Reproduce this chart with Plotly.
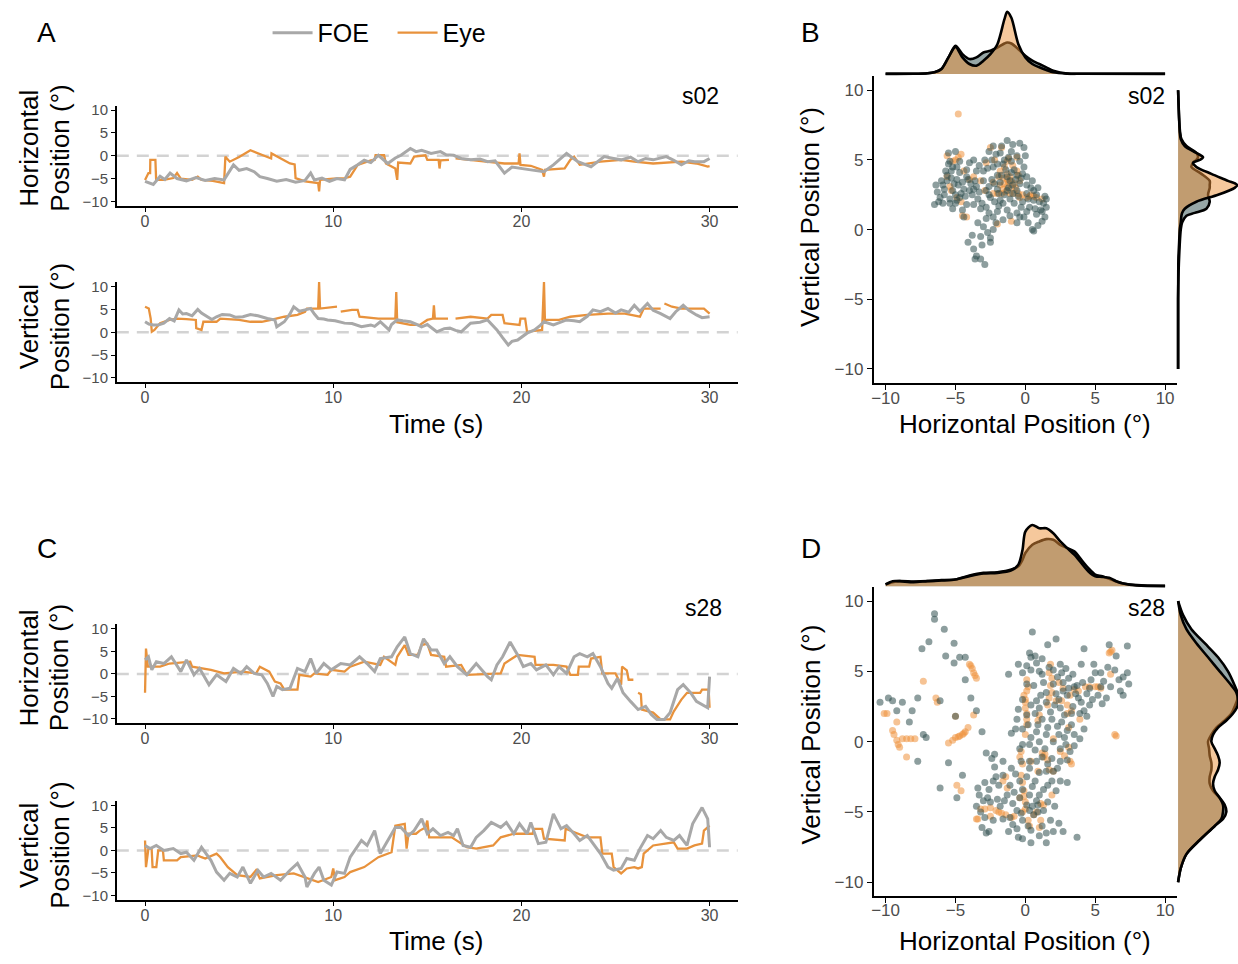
import plotly.graph_objects as go

# ---------------------------------------------------------------- data
TIME_TICKS = [0, 10, 20, 30]
POS_TICKS = [-10, -5, 0, 5, 10]
SERIES = ["FOE", "Eye"]

# s02 horizontal / vertical time series: (time s, position deg)
a_h_foe = [(0, -5.6), (0.2, -5.9), (0.44, -6.3), (0.8, -4.5), (1.05, -5.2), (1.33, -3.8), (1.7, -5.0), (2.2, -5.5), (2.7, -4.8),
           (3.2, -5.4), (3.7, -5.0), (4.2, -5.3), (4.7, -2.0), (5.0, -3.2), (5.4, -2.8), (5.8, -3.5), (6.1, -4.6),
           (6.5, -5.0), (7.0, -5.6), (7.5, -5.2), (8.0, -5.8), (8.5, -5.4), (8.8, -3.8), (9.0, -5.3), (9.4, -4.9),
           (9.8, -5.6), (10.2, -5.0), (10.6, -5.3), (10.9, -3.0), (11.3, -2.0), (11.65, -1.0), (12.0, -1.5),
           (12.4, 0.1), (12.9, -1.7), (13.3, -0.5), (13.6, 0.1), (14.1, 1.6), (14.4, 0.9), (14.7, 1.2), (15.2, 0.5),
           (15.7, 0.9), (16.0, 0.2), (16.4, 0.1), (16.8, -0.6), (17.3, -0.9), (17.8, -0.7), (18.2, -1.3), (18.6, -1.1),
           (19.1, -3.8), (19.5, -2.5), (19.9, -2.8), (20.5, -3.1), (21.2, -3.5), (21.7, -2.0), (22.4, 0.5), (23.0, -1.3),
           (23.7, -2.4), (24.4, -0.2), (24.9, -0.6), (25.3, -0.9), (25.8, -0.3), (26.2, -1.3), (26.6, -0.6),
           (27.0, -0.9), (27.7, -0.2), (28.1, -1.0), (28.5, -2.0), (28.9, -1.1), (29.2, -1.3), (29.7, -1.3), (30.0, -0.6)]
a_h_eye = [(0, -5.3), (0.18, -3.8), (0.27, -3.8), (0.28, -0.9), (0.55, -0.9), (0.59, -5.3), (1.0, -5.3), (1.5, -4.9),
           (1.7, -3.8), (1.9, -5.0), (2.5, -5.3), (2.8, -4.6), (3.0, -5.3), (3.6, -5.5), (4.2, -6.0), (4.27, -0.2),
           (4.5, -1.3), (5.0, -0.3), (5.6, 1.2), (6.1, 0.3), (6.7, -0.6), (6.72, 0.5), (7.2, -0.6), (7.7, -1.7),
           (7.95, -1.9), (8.0, -4.9), (8.5, -5.6), (9.2, -6.0), (9.25, -7.8), (9.3, -5.3), (10.0, -5.0), (10.6, -4.9),
           (10.9, -4.6), (11.3, -2.0), (12.0, -1.0), (12.2, -0.9), (12.25, 0.1), (12.7, 0.1), (12.8, -1.7), (13.3, -2.8),
           (13.4, -5.3), (13.45, -1.5), (14.1, -1.7), (14.3, -0.2), (14.9, 0.1), (15.0, -0.9), (15.6, -0.9), (15.65, -2.8),
           (15.7, -1.0), (16.15, -0.9), (16.3, None), (16.5, -0.6), (17.3, -0.9), (18.2, -1.3), (19.1, -1.7), (19.85, -1.7),
           (19.9, 0.5), (19.95, -2.0), (20.5, -2.2), (21.1, -3.1), (21.2, -4.6), (21.25, -3.1), (22.3, -2.8), (22.6, -0.9),
           (22.8, -0.2), (23.1, -2.0), (24.2, -1.3), (25.3, -0.9), (26.0, -1.3), (27.0, -1.7), (28.5, -1.3), (29.3, -1.7),
           (29.9, -2.4), (30.0, -2.3)]
a_v_foe = [(0, 2.3), (0.2, 1.8), (0.44, 1.6), (0.7, 1.6), (1.0, 2.0), (1.3, 3.0), (1.55, 2.5), (1.8, 4.9), (2.0, 4.0),
           (2.2, 4.1), (2.5, 3.6), (2.8, 5.0), (3.0, 4.2), (3.3, 3.4), (3.55, 2.8), (3.8, 3.4), (4.1, 3.9), (4.5, 3.8),
           (4.8, 3.3), (5.2, 3.4), (5.6, 3.9), (6.0, 3.6), (6.3, 3.2), (6.5, 3.0), (6.9, 2.7), (7.0, 1.2), (7.4, 2.3),
           (7.7, 4.0), (7.9, 5.6), (8.2, 4.6), (8.5, 4.9), (8.8, 5.2), (9.0, 4.0), (9.2, 3.0), (9.5, 2.9), (9.7, 2.7),
           (10.1, 2.5), (10.6, 2.0), (11.0, 1.9), (11.5, 1.2), (12.0, 1.6), (12.2, 1.3), (12.5, 2.3), (12.97, 0.5),
           (13.1, 1.7), (13.4, 2.7), (13.7, 2.5), (14.1, 2.3), (14.4, 1.8), (14.7, 1.2), (15.0, 1.7), (15.5, 0.1),
           (15.9, 0.8), (16.2, 0.9), (16.5, 0.4), (16.8, 0.1), (17.3, 2.0), (17.8, 2.2), (18.2, 2.7), (18.7, 0.5),
           (19.0, -1.2), (19.3, -2.8), (19.5, -2.0), (19.8, -1.7), (20.3, -0.2), (20.7, 0.5), (21.0, 1.5), (21.2, 2.3),
           (21.7, 1.6), (22.0, 2.0), (22.4, 2.7), (22.8, 2.5), (23.1, 2.3), (23.5, 3.5), (23.8, 4.9), (24.2, 4.5),
           (24.6, 5.2), (25.0, 4.2), (25.3, 4.9), (25.7, 4.4), (26.0, 5.9), (26.3, 4.6), (26.7, 6.3), (27.0, 4.8),
           (27.4, 4.1), (27.9, 3.0), (28.2, 4.5), (28.6, 5.9), (28.9, 4.8), (29.3, 3.8), (29.6, 3.2), (30.0, 3.4)]
a_v_eye = [(0, 5.6), (0.2, 5.2), (0.3, 3.0), (0.36, 0.1), (0.5, 0.5), (0.8, 2.0), (1.3, 2.7), (1.7, 3.0), (2.2, 2.9),
           (2.7, 2.7), (2.72, 0.9), (3.0, 0.5), (3.1, 2.3), (3.8, 2.3), (4.0, 3.0), (5.0, 2.7), (5.6, 2.3), (6.2, 2.3),
           (6.7, 2.7), (7.4, 3.4), (8.1, 3.8), (8.5, 4.5), (8.6, 5.2), (9.2, 5.2), (9.25, 11.0), (9.3, 5.2), (10.2, 5.6),
           (10.25, None), (10.4, 4.5), (11.0, 4.9), (11.3, 4.9), (11.4, 3.4), (12.4, 3.0), (13.3, 3.0), (13.35, 8.8),
           (13.4, 2.2), (14.1, 1.6), (14.6, 1.6), (15.0, 2.7), (15.3, 3.0), (15.35, 5.9), (15.4, 3.0), (16.1, 3.0),
           (16.2, None), (16.5, 3.0), (17.3, 3.4), (18.2, 3.0), (18.4, 3.8), (19.0, 3.8), (19.1, 2.0), (19.9, 1.6),
           (19.95, 3.0), (20.2, 3.0), (20.3, 0.1), (21.1, 0.5), (21.2, 11.0), (21.25, 2.7), (22.0, 2.7), (22.6, 3.4),
           (23.5, 3.8), (24.6, 4.1), (25.5, 4.1), (26.3, 3.4), (26.5, 5.2), (27.4, 5.2), (27.45, None), (27.6, 6.3),
           (28.0, 5.6), (28.5, 5.2), (29.7, 5.2), (30.0, 4.1)]

# s28 horizontal / vertical time series
c_h_foe = [(0, 3.1), (0.18, 3.8), (0.36, 0.9), (0.6, 2.7), (1.0, 2.3), (1.4, 3.8), (1.9, 0.5), (2.2, 3.1), (2.6, -0.2),
           (2.9, 1.2), (3.4, -2.4), (3.8, -0.2), (4.3, -1.7), (4.7, 1.2), (5.1, 0.1), (5.4, 1.6), (5.8, 0.1),
           (6.2, -0.2), (6.5, -2.1), (6.8, -5.0), (7.0, -2.8), (7.3, -3.5), (7.7, -3.2), (8.1, 1.2), (8.5, 0.5),
           (8.8, 3.4), (9.1, 0.1), (9.5, 2.3), (9.9, 0.9), (10.4, 2.3), (10.9, 2.0), (11.4, 3.8), (11.8, 2.3),
           (12.2, 0.5), (12.5, 3.4), (13.1, 3.8), (13.4, 6.0), (13.8, 8.2), (14.1, 4.5), (14.5, 3.8), (14.8, 7.8),
           (15.2, 5.3), (15.5, 5.3), (15.9, 2.3), (16.2, 3.8), (16.6, 1.6), (17.1, -0.2), (17.6, 2.3), (18.2, -0.6),
           (18.4, -1.3), (18.7, 2.0), (19.0, 3.8), (19.4, 7.1), (19.8, 4.2), (20.1, 1.6), (20.5, 2.3), (20.8, 0.9),
           (21.3, 2.0), (21.7, -0.2), (22.0, 1.6), (22.4, 0.1), (22.8, 3.8), (23.1, 4.5), (23.5, 3.8), (23.8, 4.5),
           (24.2, 1.6), (24.6, -2.1), (24.8, -3.2), (25.1, -1.0), (25.4, -4.2), (25.8, -6.1), (26.2, -7.9),
           (26.6, -7.2), (26.9, -9.0), (27.2, -10.1), (27.6, -10.1), (27.9, -8.6), (28.3, -3.5), (28.6, -2.4),
           (29.0, -4.2), (29.3, -6.1), (29.9, -7.5), (30.0, -0.6)]
c_h_eye = [(0, -4.2), (0.05, 5.6), (0.15, 1.6), (0.8, 1.6), (1.3, 2.3), (2.4, 2.7), (2.5, 1.6), (3.5, 0.9), (4.2, 0.1),
           (5.2, 0.5), (5.9, 0.1), (6.1, 1.6), (6.6, 0.5), (6.9, -1.7), (7.2, -2.1), (7.4, -3.5), (8.1, -3.5),
           (8.2, -0.2), (8.8, -0.6), (9.0, 0.1), (9.7, -0.2), (9.9, 0.9), (10.6, 0.5), (10.9, 1.6), (11.65, 2.7),
           (12.5, 2.0), (12.7, 3.8), (13.3, 2.0), (13.4, 3.8), (13.8, 6.4), (14.0, 4.2), (14.5, 4.2), (14.7, 6.4),
           (15.0, 6.7), (15.2, 4.2), (15.9, 3.8), (16.0, 1.6), (16.8, 2.0), (17.1, -0.2), (18.9, 0.1), (19.1, 2.3),
           (19.8, 4.2), (20.7, 3.8), (20.75, 2.0), (21.7, 2.0), (22.4, 1.6), (22.6, -0.2), (23.0, -0.2), (23.05, 1.6),
           (23.6, 1.6), (23.7, 3.4), (24.2, 3.8), (24.3, 0.1), (25.0, 0.1), (25.3, -2.4), (25.35, 1.6), (25.6, 0.8),
           (25.7, -1.3), (25.95, -1.3), (26.05, None), (26.2, -4.2), (26.35, -4.5), (26.4, -7.9), (27.0, -8.6),
           (27.4, -10.1), (27.9, -10.1), (28.1, -8.3), (28.5, -5.7), (28.8, -4.2), (29.5, -4.2), (29.6, -3.5),
           (29.95, -3.5), (30.0, -7.5)]
c_v_foe = [(0, 1.1), (0.27, 0.4), (0.6, 1.1), (1.0, 0), (1.5, 0.4), (1.9, -0.7), (2.2, -0.4), (2.6, -2.2), (3.0, 0.7),
           (3.5, -2.2), (3.8, -4.8), (4.2, -6.6), (4.5, -5.1), (4.9, -5.9), (5.2, -3.7), (5.6, -7.3), (6.0, -4.4),
           (6.3, -5.9), (6.7, -5.1), (7.2, -6.6), (7.7, -4.4), (8.1, -2.9), (8.5, -5.9), (8.6, -8.1), (9.0, -5.1),
           (9.25, -3.7), (9.5, -6.6), (9.9, -7.7), (10.2, -4.8), (10.6, -5.1), (10.9, -1.5), (11.5, 2.2), (11.8, 1.1),
           (12.2, 4.4), (12.5, -0.7), (12.9, 2.2), (13.3, 5.1), (13.6, 5.1), (14.0, 3.3), (14.3, 4.4), (14.7, 7.0),
           (15.0, 3.7), (15.3, 4.8), (15.7, 3.3), (16.1, 4.0), (16.4, 3.3), (16.6, 4.8), (16.9, 1.1), (17.3, 0.7),
           (17.6, 2.9), (18.0, 4.4), (18.4, 6.2), (18.9, 5.1), (19.2, 6.2), (19.6, 3.7), (19.9, 5.9), (20.3, 3.7),
           (20.5, 6.2), (20.9, 1.5), (21.3, 1.8), (21.7, 8.1), (22.1, 4.8), (22.4, 5.5), (22.8, 3.7), (23.1, 2.2),
           (23.5, 3.3), (23.8, 1.5), (24.2, -0.7), (24.6, -3.7), (24.9, -4.4), (25.3, -4.0), (25.6, -1.8),
           (26.0, -2.2), (26.3, 0.4), (26.7, 3.3), (27.0, 2.6), (27.4, 4.4), (27.7, 2.9), (28.1, 2.2), (28.4, 3.3),
           (28.8, 1.1), (29.1, 5.9), (29.6, 9.5), (29.9, 7.0), (30.0, 0.7)]
c_v_eye = [(0, 2.2), (0.05, -3.7), (0.18, 0.4), (0.35, 0.4), (0.4, -3.7), (0.6, -3.7), (0.7, 0), (0.95, 0), (1.0, -2.2),
           (1.7, -2.2), (1.9, -1.5), (2.8, -1.1), (3.0, -1.5), (3.2, -1.8), (3.8, -0.7), (4.0, -1.5), (4.4, -3.7),
           (4.9, -5.5), (5.6, -5.9), (5.9, -4.4), (6.1, -6.2), (7.0, -5.5), (7.9, -5.1), (8.5, -5.9), (9.2, -7.0),
           (9.9, -5.9), (10.0, -4.0), (10.1, -6.6), (10.6, -5.9), (10.9, -4.8), (11.65, -3.7), (12.4, -1.5),
           (13.1, -0.4), (13.3, 5.5), (13.8, 5.9), (13.9, 0.4), (14.0, 3.7), (14.4, 3.7), (14.6, 4.4), (14.9, 5.1),
           (15.0, 6.6), (15.1, 2.9), (15.6, 2.9), (16.3, 2.9), (17.1, 0.7), (17.6, 0.4), (18.5, 1.1), (18.9, 2.9),
           (19.6, 3.7), (20.6, 3.7), (20.65, 4.8), (21.1, 4.8), (21.2, 2.6), (22.3, 2.2), (22.35, 4.8), (23.5, 2.9),
           (24.2, 2.9), (24.3, -0.7), (24.8, -0.7), (24.9, -3.7), (25.3, -5.1), (25.6, -4.0), (26.0, -3.7),
           (26.2, -4.0), (26.4, -3.7), (26.5, -0.7), (27.0, 1.1), (28.1, 1.8), (28.3, 0.4), (28.8, 0.4), (29.2, 1.1),
           (29.6, 1.5), (29.7, 4.4), (30.0, 5.5)]

# s02 gaze / FOE positions: (horizontal deg, vertical deg)
b_foe = [(-1.3, 6.4), (-0.4, 6.2), (-0.1, 5.9), (-2.3, 6.0), (-1.0, 5.6), (-0.6, 5.3), (-1.2, 5.2), (-1.8, 5.5),
         (-2.4, 5.0), (-2.9, 5.0), (-3.7, 5.0), (-4.0, 4.8), (-4.7, 4.9), (-5.0, 5.6), (-5.5, 5.5), (-5.4, 4.9),
         (-5.2, 4.5), (-4.7, 4.1), (-4.2, 4.3), (-3.5, 4.2), (-2.3, 4.5), (-1.6, 4.7), (-0.8, 4.3), (-0.1, 4.5),
         (-2.0, 3.9), (-1.3, 3.8), (-0.6, 3.9), (0.5, 3.5), (-5.6, 3.9), (-4.9, 3.6), (-4.2, 3.8), (-3.6, 3.5),
         (-3.0, 3.5), (-2.4, 3.6), (-1.8, 3.4), (-1.1, 3.5), (-0.4, 3.3), (0.1, 3.2), (-6.4, 3.2), (-5.8, 2.9),
         (-5.2, 2.8), (-4.4, 2.9), (-3.5, 3.1), (-2.8, 2.8), (-2.0, 2.9), (-1.3, 2.8), (-0.6, 2.8), (0.1, 2.6),
         (0.8, 2.5), (1.4, 2.4), (-6.1, 2.3), (-5.4, 2.2), (-4.7, 2.3), (-3.4, 2.2), (-2.5, 2.3), (-1.8, 2.1),
         (-1.1, 2.2), (-0.2, 2.0), (0.6, 2.1), (1.3, 1.9), (-6.5, 1.8), (-5.9, 1.9), (-5.0, 1.9), (-4.2, 1.8),
         (-3.2, 1.5), (-2.8, 1.6), (-2.0, 1.3), (-1.3, 1.4), (-0.6, 1.2), (0.1, 1.3), (0.8, 1.1), (1.4, 0.9),
         (1.2, 0.6), (-2.8, 0.8), (-1.6, 0.7), (-2.3, 0.9), (-0.6, 0.5), (0.5, 0.0), (0.6, -0.1), (-3.0, 0.2),
         (-2.3, 0.0), (-3.2, -0.5), (-2.5, -0.6), (-4.1, -0.9), (-3.1, -1.1), (-2.5, -0.9), (-3.7, -1.4),
         (-3.5, -1.9), (-3.2, -2.1), (-3.6, -2.1), (-2.9, -2.5), (-5.4, 1.9), (-5.6, 3.5), (-5.3, 4.2), (-5.5, 4.7),
         (-4.8, 3.2), (-4.0, 2.8), (-3.0, 4.2), (-2.0, 4.7), (-1.7, 3.9), (-1.0, 4.9), (-0.4, 4.9), (0.1, 3.8),
         (0.6, 2.8), (1.1, 1.4), (-0.8, 1.9), (-1.6, 1.9), (-3.7, 1.8), (-4.4, 0.9), (-0.1, 0.9), (-5.0, 2.5),
         (-5.1, 3.3), (-4.6, 2.6), (-1.5, 2.5), (-1.2, 3.0), (-0.9, 2.6), (-2.6, 3.1), (-3.9, 3.3), (-1.4, 4.3),
         (-0.3, 3.7), (0.3, 1.6), (-2.2, 2.0), (1.0, 2.0), (-5.8, 2.5), (-6.0, 3.5),
         (-5.7, 4.2), (-5.3, 3.7), (-4.9, 4.5), (-4.5, 3.4), (-4.3, 2.4), (-3.8, 2.5), (-3.3, 2.7), (-3.3, 4.6),
         (-2.7, 4.4), (-2.6, 2.5), (-2.2, 3.3), (-2.1, 5.4), (-1.9, 2.6), (-1.5, 5.0), (-1.0, 4.1), (-0.9, 3.2),
         (-0.7, 3.6), (-0.5, 2.4), (-0.3, 1.6), (0.2, 2.2), (0.4, 3.0), (0.7, 1.5), (0.9, 3.0), (1.2, 1.3),
         (1.5, 1.6), (1.5, 2.2), (-6.2, 2.0), (-6.3, 2.7), (-5.9, 3.2), (-4.9, 2.1), (-4.1, 3.6), (-3.7, 2.9),
         (-3.1, 1.9), (-2.6, 1.2), (-2.1, 0.5), (-1.9, 1.7), (-1.1, 1.0), (-0.4, 0.9), (0.2, 0.5), (-3.4, 0.5),
         (-2.7, -0.2), (-3.8, -0.4), (-4.5, 1.4), (-5.2, 1.5), (-1.7, 6.0), (-0.9, 6.1), (-2.6, 5.6), (0.0, 5.3),
         (-0.2, 4.0), (0.9, 0.3)]
b_eye = [(-4.8, 8.3), (-2.5, 5.9), (-1.7, 5.9), (-5.6, 5.3), (-4.8, 5.2), (-5.2, 4.9), (-2.8, 4.8), (-2.2, 5.0),
         (-1.3, 4.9), (-0.6, 5.2), (-4.4, 4.2), (-4.0, 3.6), (-3.2, 3.5), (-1.8, 3.2), (-1.3, 3.1), (-0.8, 3.3),
         (-0.4, 3.5), (-2.9, 2.8), (-2.3, 2.6), (-1.6, 2.9), (0.4, 2.5), (0.8, 2.3), (1.2, 2.2), (-5.4, 3.1),
         (-4.9, 2.3), (-4.2, 0.9), (-2.0, 0.4), (-1.0, 0.6), (-3.7, 3.8), (-1.1, 3.8), (-0.4, 2.3), (0.1, 2.3),
         (-1.8, 4.2), (-5.6, 3.8), (-1.3, 4.0), (-0.6, 4.2), (-1.5, 3.3), (-1.2, 3.4), (-1.0, 3.0), (-1.4, 2.7),
         (-2.0, 2.6), (-1.7, 2.6), (-1.1, 2.6), (-0.8, 2.6), (-0.5, 2.6), (-0.2, 2.5), (0.3, 2.4), (0.6, 2.4),
         (-1.3, 3.6), (-1.0, 3.5), (-0.7, 3.0), (-1.6, 3.7), (-1.9, 3.8), (-2.3, 3.4), (-4.6, 5.4), (-5.0, 5.0),
         (-5.3, 2.8), (-4.6, 2.0), (-4.5, 1.0), (-1.2, 5.1), (-0.9, 4.6), (-1.5, 4.5), (-0.5, 3.9)]

# s28 gaze / FOE positions
d_foe = [(-6.5, 9.1), (-6.5, 8.7), (-5.8, 8.0), (-6.9, 7.1), (-7.4, 6.6), (-5.1, 7.0), (-5.7, 6.1), (-4.7, 6.0),
         (-4.3, 6.0), (-5.1, 5.6), (-4.3, 4.4), (-10.4, 2.8), (-9.8, 3.1), (-9.5, 2.9), (-9.2, 2.2), (-8.8, 2.8),
         (-8.1, 2.2), (-7.7, 3.1), (-8.3, 1.4), (-7.3, 0.5), (-7.1, 0.3), (-6.1, 2.9), (-5.0, 1.8), (-3.9, 3.1),
         (-3.5, 2.2), (-3.1, 0.7), (-7.7, -1.4), (-5.5, -1.5), (-6.1, -3.3), (-4.9, -4.0), (-2.8, -0.8),
         (-2.2, -0.9), (-4.5, -2.4), (-2.2, -1.8), (-2.9, -2.9), (-3.3, -3.8), (-3.0, -4.2), (-2.7, -4.0),
         (-2.3, -2.8), (-2.1, -2.5), (-1.9, -3.1), (-3.1, -6.1), (-2.6, -6.4), (-2.8, -6.5), (-2.3, -5.6),
         (-1.6, -5.5), (-1.1, -5.4), (-0.5, -6.8), (-0.2, -6.9), (0.4, -7.2), (1.0, -6.7), (1.5, -7.2), (1.5, -6.5),
         (2.0, -6.4), (2.7, -6.4), (3.7, -6.8), (1.8, -5.6), (-0.2, -5.6), (0.3, -4.9), (0.6, -5.2), (0.1, -4.5),
         (0.8, -4.2), (-0.4, -4.0), (0.3, -3.8), (1.0, -3.8), (-0.2, -3.4), (0.5, -3.2), (1.3, -3.4), (-0.4, -2.8),
         (1.9, -2.8), (2.5, -2.8), (3.0, -2.9), (-1.1, -3.1), (-1.6, -2.4), (0.3, -1.4), (-0.3, -1.4), (2.0, -2.1),
         (2.5, -1.4), (0.5, 7.8), (2.2, 7.3), (1.6, 6.9), (4.2, 6.6), (6.0, 6.9), (7.3, 6.8), (6.5, 6.1), (0.7, 6.1),
         (0.4, 6.0), (1.2, 5.9), (-0.5, 5.5), (0.1, 5.4), (0.8, 5.6), (-1.2, 4.8), (-0.2, 4.9), (0.4, 5.1), (1.2, 4.8),
         (2.0, 5.1), (2.6, 4.9), (2.9, 5.2), (3.4, 4.8), (4.0, 5.5), (4.9, 5.5), (5.0, 4.9), (5.4, 4.9), (6.4, 5.1),
         (7.3, 4.9), (7.0, 4.6), (7.4, 4.1), (6.1, 3.9), (5.4, 3.9), (4.6, 3.8), (3.7, 4.0), (2.7, 4.2), (2.0, 4.1),
         (1.3, 4.2), (0.6, 4.0), (0.1, 4.1), (1.5, 3.5), (2.2, 3.4), (3.0, 3.3), (3.8, 3.1), (4.4, 3.4), (5.2, 3.3),
         (7.0, 3.3), (0.8, 2.9), (1.5, 2.8), (2.5, 2.4), (3.4, 2.5), (4.2, 2.2), (4.4, 1.8), (3.9, 2.0), (-0.6, 1.6),
         (0.1, 1.9), (0.7, 2.0), (1.2, 1.6), (1.9, 1.6), (2.6, 1.4), (3.3, 1.2), (4.2, 0.9), (-1.0, 0.6), (-0.2, 0.9),
         (0.8, 0.7), (1.5, 0.5), (2.4, 0.5), (3.0, 0.8), (3.9, 0.2), (-0.2, -0.2), (0.3, -0.2), (1.0, 0.0), (2.0, 0.0),
         (2.5, -0.5), (3.2, -0.7), (1.2, -1.1), (1.9, -1.2), (3.0, -1.3), (0.3, -1.9), (1.0, -2.2), (1.5, -2.1),
         (3.5, 3.9), (2.4, 3.0), (1.1, 3.3), (3.1, 4.5), (4.0, 2.8), (2.8, 1.9), (0.4, 0.3), (-0.6, -4.9),
         (0.9, -5.0), (-0.9, -4.4), (0.2, -6.0), (-1.8, -4.6),
         (0.3, 6.3), (1.0, 5.0), (1.7, 5.3), (2.3, 4.6), (2.5, 5.5), (3.1, 3.8), (3.6, 3.4), (4.1, 4.2), (4.7, 4.4),
         (5.6, 4.3), (5.9, 5.3), (6.7, 4.4), (6.8, 3.6), (3.3, 2.0), (2.1, 2.6), (1.8, 2.1), (1.0, 2.4), (0.4, 2.6),
         (-0.2, 3.0), (-0.5, 2.3), (-0.7, 0.9), (0.2, 1.2), (0.9, 1.2), (1.6, 1.0), (2.3, 1.1), (2.8, 0.3),
         (3.5, 0.5), (3.5, -0.3), (2.9, -0.2), (1.4, -0.5), (0.7, -0.6), (-0.4, -0.5), (0.8, -1.4), (2.3, -1.9),
         (1.6, -1.6), (4.6, 2.6), (5.5, 2.7), (4.8, 3.0), (5.8, 3.1), (2.7, 3.6),
         (-3.5, -4.6), (-3.2, -5.0), (-2.9, -5.4), (-2.5, -4.3), (-2.0, -4.1), (-1.5, -4.2), (-1.3, -3.8),
         (-0.8, -3.6), (-0.9, -5.9), (-0.3, -5.1), (0.5, -4.6), (0.9, -4.5), (1.3, -4.9), (1.6, -4.3), (2.1, -4.6),
         (0.4, -6.3), (-0.6, -6.2), (1.2, -6.0), (2.4, -5.8), (-1.2, -6.4), (-3.4, -3.3), (-2.6, -3.4),
         (-1.6, -1.4), (-1.0, -1.9), (-0.7, -2.3), (0.1, -2.5), (0.7, -2.8), (1.6, -3.1), (2.2, -3.5), (-2.4, -1.2)]
d_eye = [(-10.1, 2.0), (-9.9, 2.0), (-9.5, 0.8), (-9.4, 0.5), (-9.2, 0.1), (-9.1, -0.2), (-9.2, 1.4), (-8.5, -1.1),
         (-8.2, 0.2), (-7.9, 0.2), (-7.3, 4.3), (-6.4, 3.1), (-6.3, 2.8), (-5.5, -0.1), (-5.2, 0.1), (-5.0, 0.3),
         (-4.7, 0.4), (-4.5, 0.5), (-4.3, 0.7), (-4.1, 1.0), (-5.0, 1.8), (-3.7, 1.9), (-4.0, 5.5), (-3.8, 5.2),
         (-3.7, 4.9), (-3.6, 4.7), (-4.9, -3.1), (-4.6, -3.5), (-3.5, -5.5), (-3.4, -5.5), (-2.9, -4.8),
         (-2.5, -4.7), (-2.1, -4.9), (-1.7, -5.1), (-1.4, -5.2), (-1.0, -5.4), (-2.5, -5.3), (-1.6, -2.8),
         (-1.4, -2.5), (-1.3, -3.3), (-0.3, -2.4), (-0.2, -2.9), (-0.4, -4.0), (0.0, -4.8), (0.2, -5.6), (0.3, -6.0),
         (1.0, -6.1), (1.1, -5.6), (1.1, -4.4), (1.9, -3.8), (2.0, -2.1), (-0.3, -0.7), (-0.4, -1.1), (0.4, -1.4),
         (1.2, -0.8), (1.3, -1.1), (2.0, 0.2), (2.5, -0.7), (3.2, -1.4), (3.3, -1.6), (3.1, -0.4), (0.0, 0.5),
         (0.1, 1.2), (0.0, 2.4), (0.1, 3.6), (0.2, 3.9), (0.1, 4.4), (0.9, 1.5), (1.0, 1.9), (1.6, 2.6), (1.7, 3.1),
         (1.9, 3.5), (1.9, 4.5), (1.8, 5.5), (2.7, 3.8), (3.0, 2.6), (3.2, 3.3), (3.8, 3.6), (3.9, 1.6), (5.0, 3.9),
         (5.2, 3.9), (6.1, 6.4), (6.2, 6.5), (6.1, 4.8), (6.4, 0.5), (6.5, 0.4), (-8.5, 0.2), (0.0, 3.0), (0.1, 2.0),
         (2.6, 2.9), (3.3, 2.2), (-0.1, -3.5), (0.6, -5.2),
         (0.1, 1.6), (0.0, 2.8), (-0.1, 3.3), (1.8, 4.0), (1.7, 4.9), (2.2, 2.9), (2.4, 4.2), (3.5, 3.7), (4.3, 3.9),
         (4.6, 3.9), (5.4, 3.8), (6.0, 6.3), (3.1, 1.0), (3.0, 2.0), (1.4, -0.9), (1.6, -1.3), (2.8, -1.0),
         (-0.2, -1.6), (-0.1, -3.9), (0.0, -4.3), (0.8, -5.0), (1.3, -4.5), (-1.9, -5.0), (-3.2, -4.8), (-0.8, -5.3),
         (-9.0, -0.4), (-8.8, 0.2), (-3.9, 5.4), (-3.5, 4.5), (-4.4, 0.6), (-4.8, 0.35), (-0.2, -5.0), (0.9, -2.1),
         (1.7, -2.0)]

# marginal densities (arbitrary density units)
b_top_grid = [-10, -8, -7, -6.5, -6, -5.5, -5, -4.5, -4, -3.5, -3, -2.5, -2, -1.5, -1.3, -1, -0.5, 0, 0.5, 1, 1.5, 2, 3, 4, 10]
b_top_eye = [0, 0.5, 2, 5, 15, 50, 82, 50, 30, 25, 40, 60, 90, 165, 188, 170, 90, 50, 30, 20, 12, 5, 1, 0.3, 0]
b_top_foe = [0, 0.5, 2, 5, 15, 50, 85, 60, 45, 50, 65, 70, 80, 92, 95, 92, 75, 55, 40, 30, 20, 10, 1, 0.3, 0]
b_right_grid = [-10, -5, -4, -3, -2, -1, 0, 0.5, 1, 1.2, 1.5, 2, 2.5, 3, 3.2, 3.5, 4, 4.5, 4.8, 5, 5.2, 5.5, 6, 6.5, 7, 8, 10]
b_right_eye = [0, 0, 0.3, 0.5, 1, 3, 5, 8, 10, 12, 20, 55, 120, 170, 178, 150, 100, 55, 45, 65, 75, 55, 20, 8, 5, 3, 0]
b_right_foe = [0, 0, 0.5, 1.5, 3, 5, 8, 12, 25, 50, 85, 95, 90, 95, 95, 95, 70, 40, 45, 55, 60, 55, 25, 10, 6, 3, 0]
d_top_grid = [-10, -9.5, -9, -8, -7, -6, -5, -4, -3, -2, -1, -0.5, -0.2, 0, 0.5, 1, 1.5, 2, 2.5, 3, 3.5, 4, 4.5, 5, 5.5, 6, 6.5, 7, 8, 10]
d_top_eye = [5, 15, 15, 12, 15, 17, 20, 30, 38, 40, 48, 65, 110, 165, 185, 175, 175, 160, 135, 115, 95, 70, 45, 30, 28, 25, 15, 8, 2, 0]
d_top_foe = [5, 12, 15, 14, 15, 18, 20, 32, 40, 42, 50, 60, 80, 100, 125, 135, 142, 140, 125, 115, 105, 80, 55, 35, 30, 22, 14, 8, 3, 1]
d_right_grid = [-10, -9, -8, -7, -6, -5.5, -5, -4.5, -4, -3.5, -3, -2.5, -2, -1.5, -1, -0.5, 0, 0.5, 1, 1.5, 2, 2.5, 3, 3.5, 4, 5, 6, 7, 8, 9, 10]
d_right_eye = [0, 8, 25, 65, 110, 130, 135, 135, 125, 110, 105, 110, 120, 125, 120, 110, 100, 105, 120, 145, 165, 178, 180, 175, 160, 125, 90, 55, 25, 8, 0]
d_right_foe = [0, 8, 25, 65, 110, 135, 145, 140, 125, 105, 95, 95, 100, 100, 95, 93, 90, 100, 115, 140, 160, 170, 178, 178, 170, 150, 120, 80, 40, 15, 0]

# ---------------------------------------------------------------- style
W, H = 1238, 964
FONT = "Liberation Sans, Arial, sans-serif"
FOE_LINE, EYE_LINE = "#A8A8A8", "#E8923C"
FOE_PT, EYE_PT = "rgba(47,79,79,0.55)", "rgba(238,146,60,0.55)"
FOE_FILL, EYE_FILL = "rgba(47,79,79,0.5)", "rgba(236,146,58,0.5)"
TICK_GREY = "#4D4D4D"


def fx(p):
    return p / W


def fy(p):
    return 1 - p / H


def unzip(pairs):
    return [p[0] for p in pairs], [p[1] for p in pairs]


fig = go.Figure()

# ---------------------------------------------------------------- time series panels (axes 1-4)
ts_panels = [
    (1, a_h_foe, a_h_eye, 102.4, 203.6),
    (2, a_v_foe, a_v_eye, 280.4, 381.6),
    (3, c_h_foe, c_h_eye, 625.5, 725.5),
    (4, c_v_foe, c_v_eye, 803.5, 903.5),
]
layout_axes = {}
shapes = []
for idx, foe, eye, top, bot in ts_panels:
    xa = "x" if idx == 1 else f"x{idx}"
    ya = "y" if idx == 1 else f"y{idx}"
    te, ve = unzip(eye)
    tf, vf = unzip(foe)
    fig.add_trace(go.Scatter(x=te, y=ve, mode="lines", name=SERIES[1], legendgroup="eye",
                             showlegend=(idx == 1), legendrank=2,
                             line=dict(color=EYE_LINE, width=2.3), xaxis=xa, yaxis=ya))
    fig.add_trace(go.Scatter(x=tf, y=vf, mode="lines", name=SERIES[0], legendgroup="foe",
                             showlegend=(idx == 1), legendrank=1,
                             line=dict(color=FOE_LINE, width=3), xaxis=xa, yaxis=ya))
    key = "" if idx == 1 else str(idx)
    layout_axes[f"xaxis{key}"] = dict(
        domain=[fx(115), fx(737)], range=[-1.5, 31.5], anchor=ya, tickvals=TIME_TICKS,
        showline=True, linecolor="black", linewidth=1.6, ticks="outside", ticklen=4, tickwidth=1.3,
        tickcolor="black", tickfont=dict(size=16, color=TICK_GREY, family=FONT),
        ticklabelstandoff=-4, showgrid=False, zeroline=False)
    layout_axes[f"yaxis{key}"] = dict(
        domain=[fy(bot), fy(top)], range=[-11, 11], anchor=xa, tickvals=POS_TICKS,
        showline=True, linecolor="black", linewidth=1.6, ticks="outside", ticklen=4, tickwidth=1.3,
        tickcolor="black", tickfont=dict(size=15, color=TICK_GREY, family=FONT),
        showgrid=False, zeroline=False)
    shapes.append(dict(type="line", xref=xa, yref=ya, x0=-1.5, x1=31.5, y0=0, y1=0, layer="below",
                       line=dict(color="#D3D3D3", width=2.5, dash="12px,8px")))

# ---------------------------------------------------------------- scatter + marginal panels
sc_panels = [
    (5, 6, 7, b_foe, b_eye, 72.5, 382.5, 11.03,
     (b_top_grid, b_top_foe, b_top_eye), (b_right_grid, b_right_foe, b_right_eye), (2, 72, -4.5, 205.8)),
    (8, 9, 10, d_foe, d_eye, 588.3, 899.3, 10.97,
     (d_top_grid, d_top_foe, d_top_eye), (d_right_grid, d_right_foe, d_right_eye), (518, 589, -6, 206.9)),
]
for si, ti, ri, foe, eye, ytop, ybot, yhalf, topd, rightd, topdom in sc_panels:
    hx, vy = unzip(eye)
    fig.add_trace(go.Scatter(x=hx, y=vy, mode="markers", showlegend=False, name=SERIES[1],
                             marker=dict(color=EYE_PT, size=7, line=dict(width=0)),
                             xaxis=f"x{si}", yaxis=f"y{si}"))
    hx, vy = unzip(foe)
    fig.add_trace(go.Scatter(x=hx, y=vy, mode="markers", showlegend=False, name=SERIES[0],
                             marker=dict(color=FOE_PT, size=7, line=dict(width=0)),
                             xaxis=f"x{si}", yaxis=f"y{si}"))
    g, df, de = topd
    for vals, fillc in ((df, FOE_FILL), (de, EYE_FILL)):
        fig.add_trace(go.Scatter(x=g, y=vals, mode="lines", fill="tozeroy", fillcolor=fillc,
                                 line=dict(color="black", width=2.6, shape="spline", smoothing=0.8),
                                 showlegend=False, xaxis=f"x{ti}", yaxis=f"y{ti}"))
    g, df, de = rightd
    for vals, fillc in ((df, FOE_FILL), (de, EYE_FILL)):
        fig.add_trace(go.Scatter(x=vals, y=g, mode="lines", fill="tozerox", fillcolor=fillc,
                                 line=dict(color="black", width=2.6, shape="spline", smoothing=0.8),
                                 showlegend=False, xaxis=f"x{ri}", yaxis=f"y{ri}"))
    axis_style = dict(showline=True, linecolor="black", linewidth=1.6, ticks="outside", ticklen=5,
                      tickwidth=1.3, tickcolor="black", tickfont=dict(size=17, color=TICK_GREY, family=FONT),
                      showgrid=False, zeroline=False, tickvals=POS_TICKS)
    layout_axes[f"xaxis{si}"] = dict(domain=[fx(873), fx(1177)], range=[-10.86, 10.86],
                                     anchor=f"y{si}", ticklabelstandoff=-7, **axis_style)
    layout_axes[f"yaxis{si}"] = dict(domain=[fy(ybot), fy(ytop)], range=[-yhalf, yhalf],
                                     anchor=f"x{si}", **axis_style)
    t0, t1, r0, r1 = topdom
    layout_axes[f"xaxis{ti}"] = dict(domain=[fx(873), fx(1177)], range=[-10.86, 10.86],
                                     anchor=f"y{ti}", visible=False)
    layout_axes[f"yaxis{ti}"] = dict(domain=[fy(t1), fy(t0)], range=[r0, r1], anchor=f"x{ti}", visible=False)
    layout_axes[f"xaxis{ri}"] = dict(domain=[fx(1175), 1.0], range=[-9, 180], anchor=f"y{ri}", visible=False)
    layout_axes[f"yaxis{ri}"] = dict(domain=[fy(ybot), fy(ytop)], range=[-yhalf, yhalf],
                                     anchor=f"x{ri}", visible=False)


# ---------------------------------------------------------------- annotations
def ann(text, x, y, size, angle=0, color="black"):
    return dict(text=text, x=fx(x), y=fy(y), xref="paper", yref="paper", showarrow=False,
                xanchor="center", yanchor="middle", textangle=angle,
                font=dict(size=size, color=color, family=FONT))


annotations = [
    ann("A", 45, 29, 28), ann("B", 810, 29, 28), ann("C", 45, 549, 28), ann("D", 810, 549, 28),
    ann("s02", 700, 93, 23), ann("s02", 1146, 93, 23), ann("s28", 703, 609, 23), ann("s28", 1146, 609, 23),
    ann("Time (s)", 435, 424, 26), ann("Time (s)", 435, 945, 26),
    ann("Horizontal Position (°)", 1025, 424, 26), ann("Horizontal Position (°)", 1025, 945, 26),
    ann("Vertical Position (°)", 810, 215, 26, -90), ann("Vertical Position (°)", 810, 737, 26, -90),
]
for name, center in (("Horizontal", 145), ("Vertical", 325), ("Horizontal", 669), ("Vertical", 848)):
    annotations.append(ann(name, 27, center, 26, -90))
    annotations.append(ann("Position (°)", 58, center, 26, -90))

fig.update_layout(
    width=W, height=H, autosize=False, margin=dict(l=0, r=0, t=0, b=0),
    paper_bgcolor="white", plot_bgcolor="rgba(0,0,0,0)",
    font=dict(family=FONT, color="black"),
    showlegend=True,
    legend=dict(orientation="h", x=fx(266), y=fy(6), xanchor="left", yanchor="top",
                font=dict(size=25, family=FONT), bgcolor="rgba(0,0,0,0)", itemwidth=40,
                entrywidth=70, entrywidthmode="pixels", traceorder="normal"),
    annotations=annotations, shapes=shapes,
    **layout_axes,
)

fig.write_html("out.html")
